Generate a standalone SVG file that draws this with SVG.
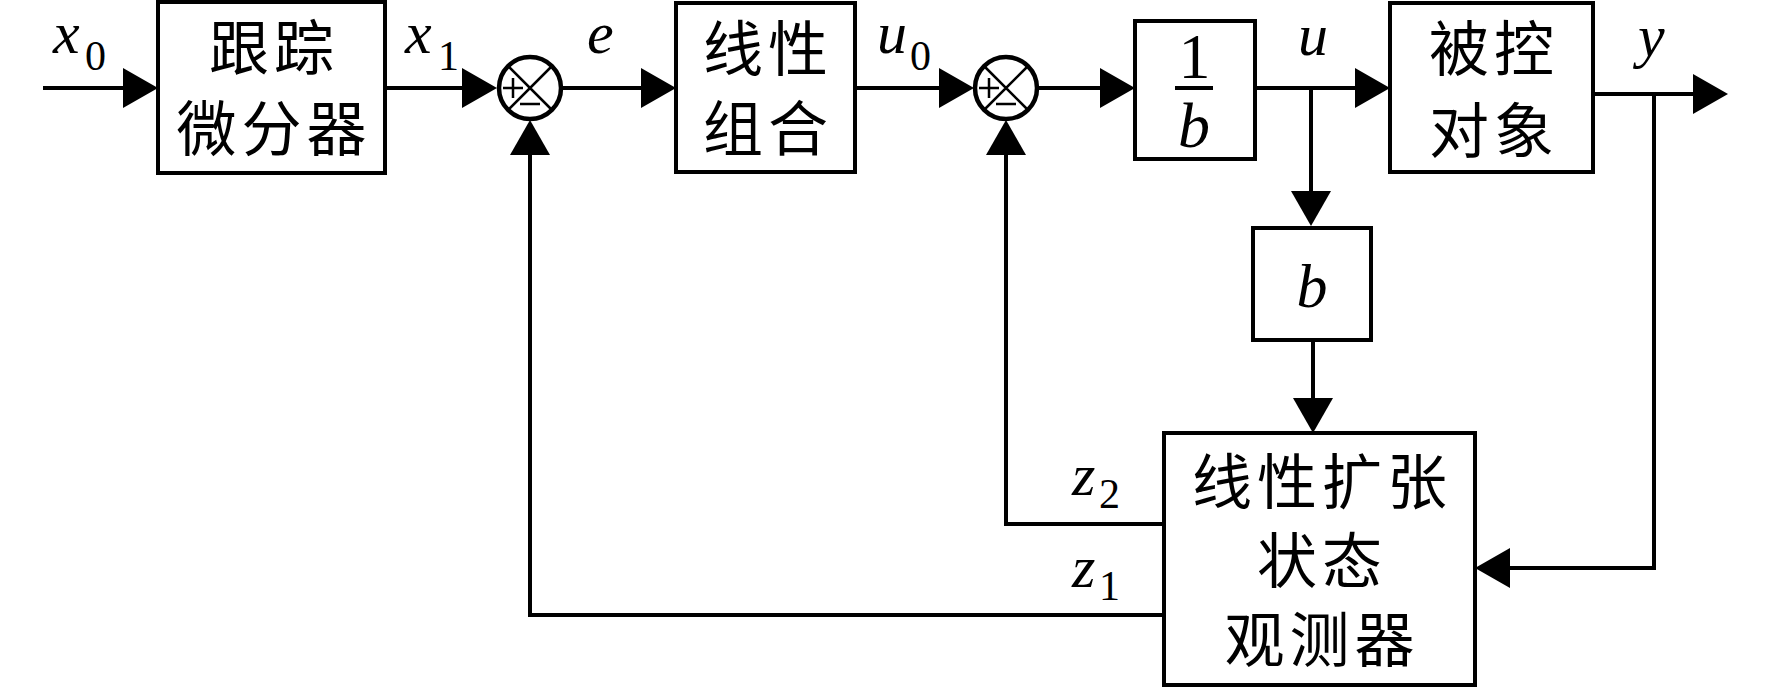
<svg xmlns="http://www.w3.org/2000/svg" width="1772" height="687" viewBox="0 0 1772 687">
<style>
.box{fill:#fff;stroke:#000;stroke-width:4}
.ln{fill:none;stroke:#000;stroke-width:4;marker-end:url(#ah)}
.plain{fill:none;stroke:#000;stroke-width:4}
.sum{fill:#fff;stroke:#000;stroke-width:4.5}
.thin{fill:none;stroke:#000;stroke-width:2.5}
</style>
<defs>
<marker id="ah" markerUnits="userSpaceOnUse" markerWidth="36" markerHeight="40" refX="31" refY="20" orient="auto">
<path d="M0,0 L35,20 L0,40 Z" fill="#000"/>
</marker>
</defs>
<rect width="1772" height="687" fill="#fff"/>

<g id="connectors">
<path class="ln" d="M43,88 H154"/>
<path class="ln" d="M385,88 H493"/>
<path class="ln" d="M563,88 H672"/>
<path class="ln" d="M855,88 H970"/>
<path class="ln" d="M1039,88 H1131"/>
<path class="ln" d="M1255,88 H1386"/>
<path class="ln" d="M1311,88 V222"/>
<path class="ln" d="M1313,340 V429"/>
<path class="ln" d="M1593,94 H1724"/>
<path class="ln" d="M1654,94 V568 H1479"/>
<path class="ln" d="M1164,524 H1006 V124"/>
<path class="ln" d="M1164,615 H530 V124"/>
</g>

<g id="labels" font-family="Liberation Serif, Times New Roman, serif" fill="#000">
<g font-style="italic" font-size="60">
<text x="53" y="53">x</text>
<text x="405" y="53">x</text>
<text x="587" y="53">e</text>
<text x="877" y="53">u</text>
<text x="1298" y="55">u</text>
<text x="1638" y="56">y</text>
<text x="1072" y="495">z</text>
<text x="1072" y="587">z</text>
</g>
<g font-size="42">
<text x="85" y="70">0</text>
<text x="438" y="70">1</text>
<text x="910" y="70">0</text>
<text x="1099" y="508">2</text>
<text x="1099" y="600">1</text>
</g>
</g>

<g id="td" font-family="Noto Sans CJK SC, sans-serif" font-size="60" letter-spacing="5" text-anchor="middle">
<rect class="box" x="158" y="2" width="227" height="171"/>
<text x="274" y="70">跟踪</text>
<text x="274" y="151">微分器</text>
</g>

<g id="sum1">
<circle class="sum" cx="530" cy="88" r="31"/>
<path class="thin" d="M508,66 L552,110 M552,66 L508,110"/>
<path class="thin" stroke-width="2" d="M503,88 H523 M513,78 V98 M520,104 H540"/>
</g>

<g id="lc" font-family="Noto Sans CJK SC, sans-serif" font-size="60" letter-spacing="5" text-anchor="middle">
<rect class="box" x="676" y="3" width="179" height="169"/>
<text x="768" y="71">线性</text>
<text x="768" y="151">组合</text>
</g>

<g id="sum2">
<circle class="sum" cx="1006" cy="88" r="31"/>
<path class="thin" d="M984,66 L1028,110 M1028,66 L984,110"/>
<path class="thin" stroke-width="2" d="M979,88 H999 M989,78 V98 M996,104 H1016"/>
</g>

<g id="inv_b" font-family="Liberation Serif, Times New Roman, serif" text-anchor="middle">
<rect class="box" x="1135" y="21" width="120" height="138"/>
<text x="1194.5" y="78" font-size="64">1</text>
<path class="plain" d="M1175,88 H1213"/>
<text x="1194" y="147" font-size="64" font-style="italic">b</text>
</g>

<g id="plant" font-family="Noto Sans CJK SC, sans-serif" font-size="60" letter-spacing="5" text-anchor="middle">
<rect class="box" x="1390" y="3" width="203" height="169"/>
<text x="1494" y="71">被控</text>
<text x="1494" y="153">对象</text>
</g>

<g id="gain_b" font-family="Liberation Serif, Times New Roman, serif" text-anchor="middle">
<rect class="box" x="1253" y="228" width="118" height="112"/>
<text x="1312" y="307" font-size="62" font-style="italic">b</text>
</g>

<g id="eso" font-family="Noto Sans CJK SC, sans-serif" font-size="60" letter-spacing="5" text-anchor="middle">
<rect class="box" x="1164" y="433" width="311" height="252"/>
<text x="1322" y="504">线性扩张</text>
<text x="1322" y="583">状态</text>
<text x="1322" y="662">观测器</text>
</g>
</svg>
